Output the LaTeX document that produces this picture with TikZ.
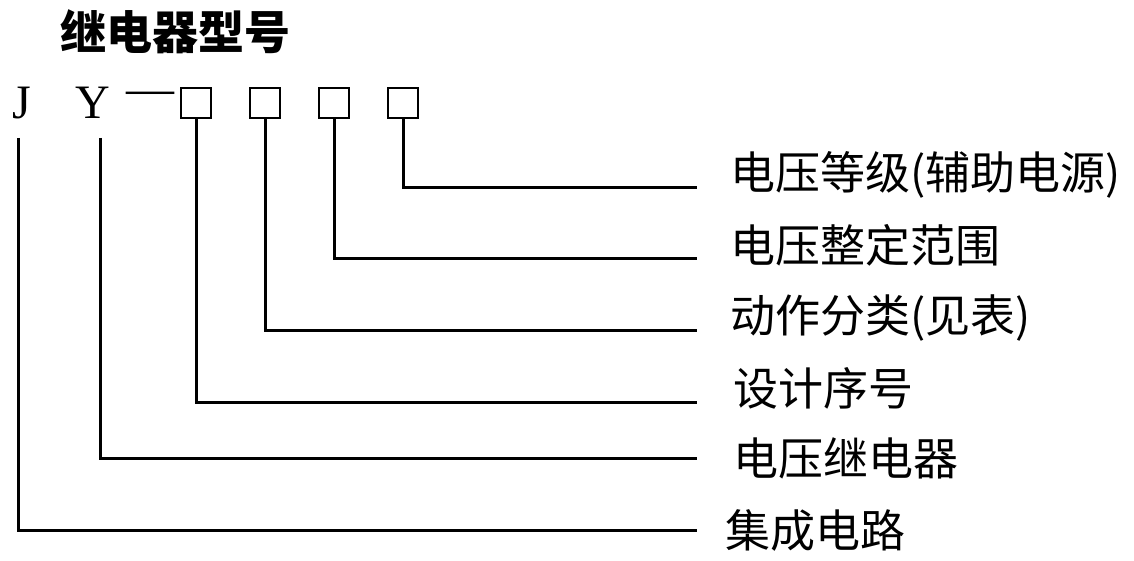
\documentclass[tikz,border=0pt]{standalone}
\usepackage{fontspec}
\setmainfont{Liberation Serif}
\newfontfamily\cjk{Noto Sans CJK SC}
\begin{document}
\begin{tikzpicture}[x=1pt,y=-1pt,
  ln/.style={line width=3pt},
  bx/.style={draw,line width=2pt,minimum size=30pt,inner sep=0pt},
  lbl/.style={anchor=west,inner sep=0pt,font=\cjk\fontsize{45}{50}\selectfont},
  lt/.style={inner sep=0pt,font=\fontsize{48}{50}\selectfont}]
\useasboundingbox (0,0) rectangle (1134,561);
\node[inner sep=0pt,anchor=west,font=\cjk\bfseries\fontsize{46}{50}\selectfont] (t) at (60,32) {继电器型号};
\node[lt] (J) at (22,103) {J};
\node[lt] (Y) at (93,103) {Y};
\node[lt] (d) at (150,98) {—};
\node[bx] (b1) at (196,103) {};
\node[bx] (b2) at (265,103) {};
\node[bx] (b3) at (334,103) {};
\node[bx] (b4) at (403,103) {};
\node[lbl] (l1) at (730,175) {电压等级(辅助电源)};
\node[lbl] (l2) at (730,245) {电压整定范围};
\node[lbl] (l3) at (730,318) {动作分类(见表)};
\node[lbl] (l4) at (733,388) {设计序号};
\node[lbl] (l5) at (733,458) {电压继电器};
\node[lbl] (l6) at (725,530) {集成电路};
\coordinate (e1) at (697,188); \coordinate (e2) at (697,258);
\coordinate (e3) at (697,330); \coordinate (e4) at (697,402);
\coordinate (e5) at (697,458); \coordinate (e6) at (697,530);
\draw[ln] (403,118) |- (e1);
\draw[ln] (b3.south) |- (e2);
\draw[ln] (b2.south) |- (e3);
\draw[ln] (b1.south) |- (e4);
\draw[ln] (100,138) |- (e5);
\draw[ln] (18,138) |- (e6);
\end{tikzpicture}
\end{document}
